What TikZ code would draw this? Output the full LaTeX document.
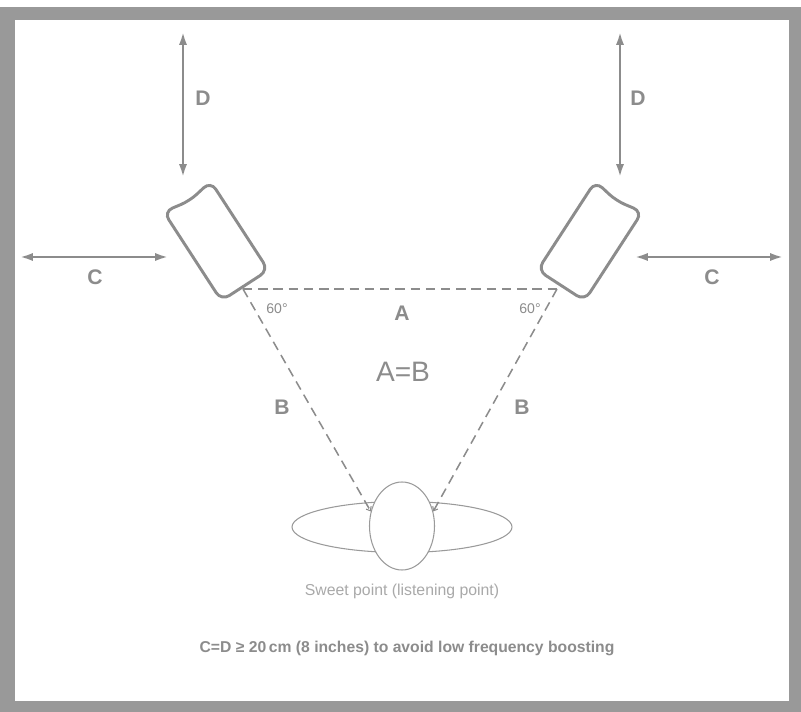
\documentclass[tikz,border=0pt]{standalone}
\usepackage{fontspec}
\setmainfont{Liberation Sans}
\usetikzlibrary{arrows.meta,shapes.geometric}
\definecolor{framegray}{HTML}{999999}
\definecolor{ink}{HTML}{8C8C8C}
\definecolor{thin}{HTML}{9A9A9A}
\begin{document}
\begin{tikzpicture}[x=0.03cm,y=-0.03cm,
  dim/.style={ink,line width=2pt,{Latex[length=11pt,width=7pt]}-{Latex[length=11pt,width=7pt]}},
  spk/.style={ink,line width=2.5pt,rounded corners=8pt},
  ray/.style={ink,line width=1.3pt,dash pattern=on 8pt off 5pt},
  lbl/.style={ink,font=\fontsize{18}{20}\selectfont\bfseries},
  small/.style={ink,font=\fontsize{12}{14}\selectfont}]
\useasboundingbox (0,0) rectangle (801,712);
\fill[framegray] (0,7) rectangle (801,712);
\fill[white] (15,20) rectangle (789,701);

% speakers
\begin{scope}[shift={(216,241)},rotate=33]
\draw[spk] (-28,-53) -- (0,-48) -- (28,-53) -- (28,53) -- (-28,53) -- cycle;
\end{scope}
\begin{scope}[shift={(590,241)},rotate=-33]
\draw[spk] (-28,-53) -- (0,-48) -- (28,-53) -- (28,53) -- (-28,53) -- cycle;
\end{scope}
\coordinate (sl) at (243,289);
\coordinate (sr) at (557,289);

% listener
\node[ellipse,draw=thin,line width=0.9pt,minimum width=6.6cm,minimum height=1.53cm,inner sep=0pt] (body) at (402,527) {};
\node[ellipse,draw=thin,fill=white,line width=0.9pt,minimum width=1.95cm,minimum height=2.64cm,inner sep=0pt] (head) at (402,526) {};
\node[ink!75,font=\fontsize{13.5}{15}\selectfont] (sweet) at (402,591) {Sweet point (listening point)};

% triangle
\draw[ray] (sl) -- (sr);
\draw[ray,-{Straight Barb[length=3pt,width=5pt,line width=0.9pt]}] (sl) -- (head.155);
\draw[ray,-{Straight Barb[length=3pt,width=5pt,line width=0.9pt]}] (sr) -- (head.25);

% distances to the walls
\coordinate (dl1) at (183,32);
\coordinate (dl2) at (183,177);
\coordinate (dr1) at (620,32);
\coordinate (dr2) at (620,177);
\coordinate (cl1) at (20,257);
\coordinate (cl2) at (168,257);
\coordinate (cr1) at (635,257);
\coordinate (cr2) at (783,257);
\draw[dim] (dl1) -- (dl2);
\draw[dim] (dr1) -- (dr2);
\draw[dim] (cl1) -- (cl2);
\draw[dim] (cr1) -- (cr2);

\node[lbl] (d1) at (203,98) {D};
\node[lbl] (d2) at (638,98) {D};
\node[lbl] (c1) at (95,277) {C};
\node[lbl] (c2) at (712,277) {C};
\node[lbl] (a) at (402,313) {A};
\node[lbl] (b1) at (282,407) {B};
\node[lbl] (b2) at (522,407) {B};
\node[ink,font=\fontsize{24}{26}\selectfont] (ab) at (403,372) {A=B};
\node[small] (g1) at (277,309) {60°};
\node[small] (g2) at (530,309) {60°};

\node[ink,font=\fontsize{13.4}{15}\selectfont\bfseries] (note) at (407,648) {C=D ≥ 20\,cm (8 inches) to avoid low frequency boosting};
\end{tikzpicture}
\end{document}
